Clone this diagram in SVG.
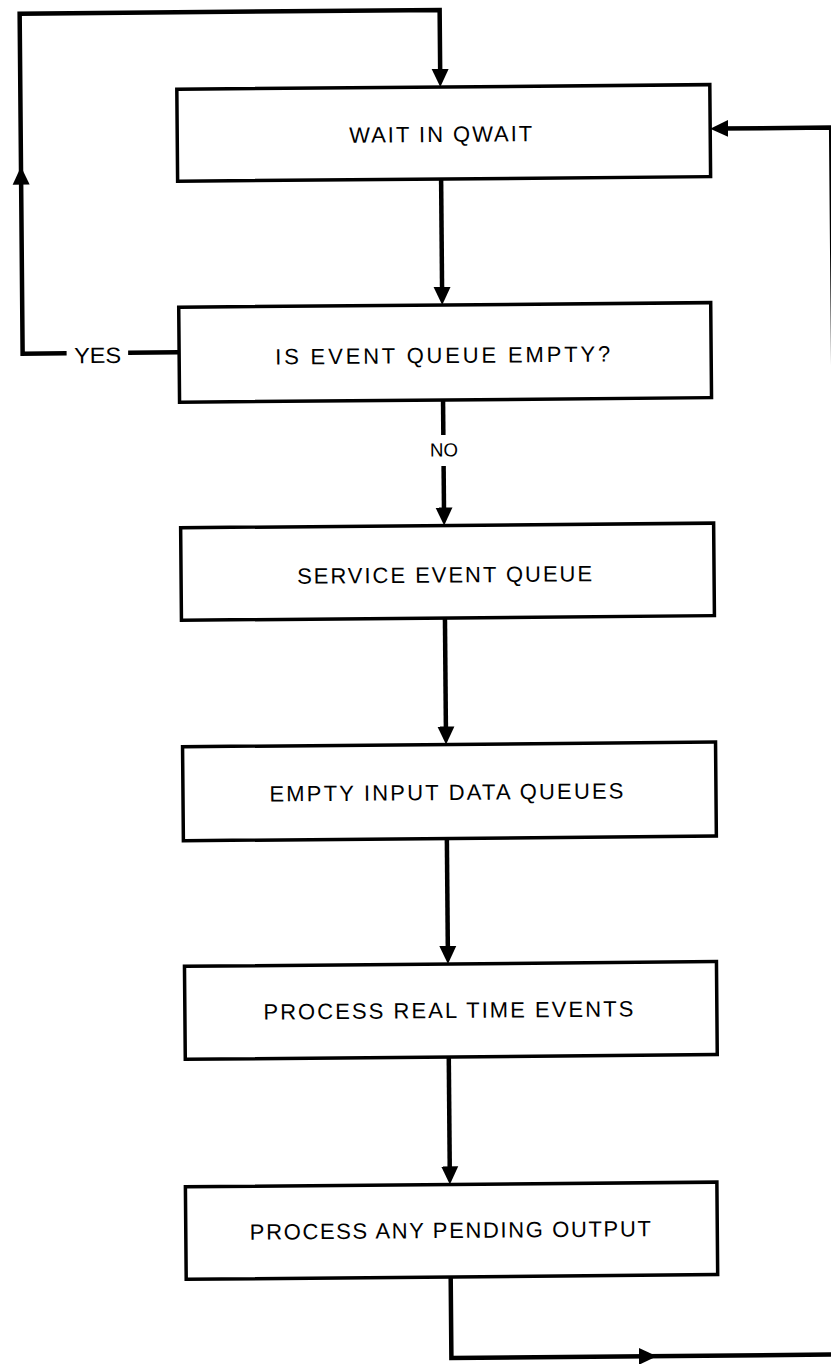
<svg xmlns="http://www.w3.org/2000/svg" width="831" height="1364" viewBox="0 0 831 1364">
<style>
.box{fill:#fff;stroke:#000;stroke-width:3.5}
.lbl{font-family:"Liberation Sans",Arial,sans-serif;font-size:22px;fill:#000;text-anchor:middle}
.c{fill:none;stroke:#000;stroke-width:4.5;stroke-linejoin:miter}
</style>
<defs>
<marker id="ah" markerUnits="userSpaceOnUse" markerWidth="18" markerHeight="18" viewBox="0 0 18 18" refX="9" refY="9" orient="auto"><path d="M0,0.5 L18,9 L0,17.5 Z" fill="#000"/></marker>
</defs>
<rect width="831" height="1364" fill="#fff"/>
<g transform="rotate(-0.5 441 682)">
<g id="connectors">
<path class="c" d="M182,350 H131"/>
<path class="c" d="M69.5,350 H25.5 V172" marker-end="url(#ah)"/>
<path class="c" d="M25.5,174 V10 H445.5 V78" marker-end="url(#ah)"/>
<path class="c" d="M445.5,179 V296" marker-end="url(#ah)"/>
<path class="c" d="M445.5,400 V435"/>
<path class="c" d="M445.5,466 V516.5" marker-end="url(#ah)"/>
<path class="c" d="M445.5,618 V735.5" marker-end="url(#ah)"/>
<path class="c" d="M445.5,838.5 V955" marker-end="url(#ah)"/>
<path class="c" d="M445.5,1057 V1175.5" marker-end="url(#ah)"/>
<path class="c" d="M445.5,1277 V1358 H642" marker-end="url(#ah)"/>
<path class="c" d="M640,1358 H836 V131 H724" marker-end="url(#ah)"/>
<text class="lbl" x="100.5" y="360" textLength="47" lengthAdjust="spacingAndGlyphs">YES</text>
<text class="lbl" x="446" y="456.5" style="font-size:19px" textLength="28" lengthAdjust="spacingAndGlyphs">NO</text>
</g>
<g id="wait-in-qwait">
<rect class="box" x="182" y="87" width="533" height="92"/>
<text class="lbl" x="445.5" y="142" textLength="183" lengthAdjust="spacing">WAIT IN QWAIT</text>
</g>
<g id="is-event-queue-empty">
<rect class="box" x="182" y="305" width="532" height="95"/>
<text class="lbl" x="445.5" y="363" textLength="335" lengthAdjust="spacing">IS EVENT QUEUE EMPTY?</text>
</g>
<g id="service-event-queue">
<rect class="box" x="182" y="525.5" width="533" height="92.5"/>
<text class="lbl" x="445.5" y="582.5" textLength="295" lengthAdjust="spacing">SERVICE EVENT QUEUE</text>
</g>
<g id="empty-input-data-queues">
<rect class="box" x="182" y="744.5" width="533" height="94"/>
<text class="lbl" x="445.5" y="800" textLength="354" lengthAdjust="spacing">EMPTY INPUT DATA QUEUES</text>
</g>
<g id="process-real-time-events">
<rect class="box" x="182" y="964" width="532" height="93"/>
<text class="lbl" x="445.5" y="1018" textLength="370" lengthAdjust="spacing">PROCESS REAL TIME EVENTS</text>
</g>
<g id="process-any-pending-output">
<rect class="box" x="181" y="1184.5" width="531.5" height="92.5"/>
<text class="lbl" x="445.5" y="1238" textLength="401" lengthAdjust="spacing">PROCESS ANY PENDING OUTPUT</text>
</g>
</g>
</svg>
